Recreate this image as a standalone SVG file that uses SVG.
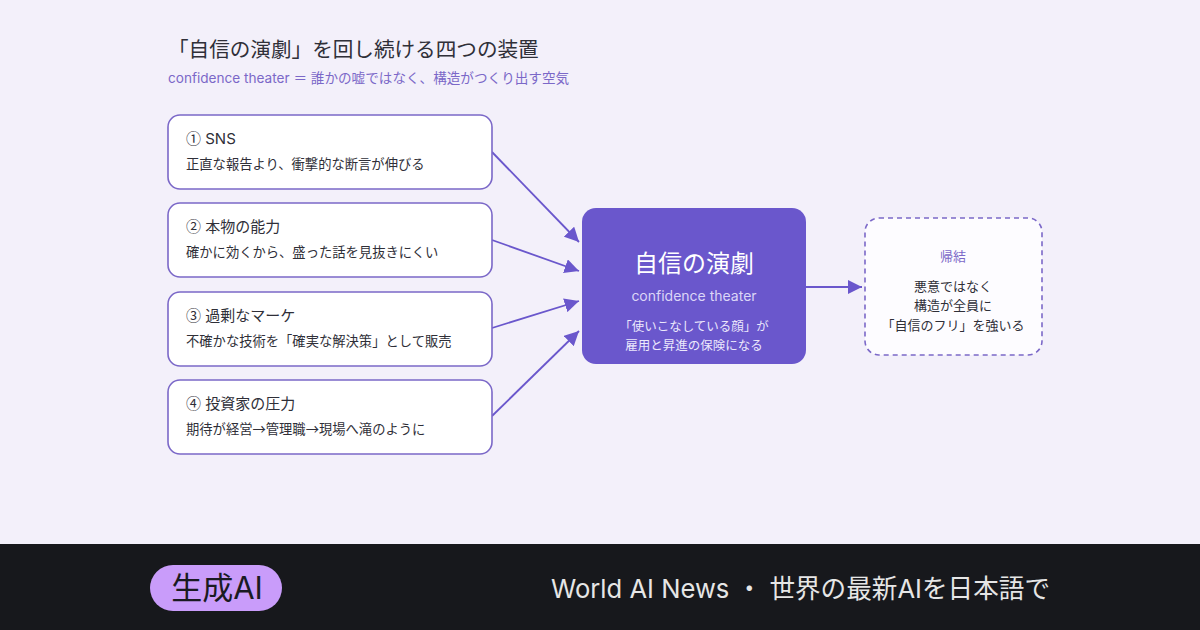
<svg xmlns="http://www.w3.org/2000/svg" width="1200" height="630" viewBox="0 0 1200 630">
<defs>
<style>
text{font-family:Inter,"Noto Sans CJK JP",sans-serif}
.card{fill:#ffffff;stroke:#7B68C8;stroke-width:1.6}
.ct{font-size:15px;fill:#2f2f38}
.n{font-family:"Noto Sans CJK JP",sans-serif}
.cs{font-size:13.3px;fill:#2f2f38;font-family:"Noto Sans CJK JP",sans-serif}
.conn{stroke:#6A57CC;stroke-width:1.8;fill:none}
</style>
<marker id="ah" viewBox="0 0 10 10" refX="10" refY="5" markerWidth="8" markerHeight="8" markerUnits="strokeWidth" orient="auto">
<path d="M0,0 L10,5 L0,10 z" fill="#6A57CC"/>
</marker>
</defs>
<rect width="1200" height="630" fill="#F3F0FA"/>
<text x="168" y="57" font-size="20.6" fill="#2f2f38">「自信の演劇」を回し続ける四つの装置</text>
<text x="168" y="83" font-size="13.6" fill="#7B68C8">confidence theater ＝ 誰かの嘘ではなく、構造がつくり出す空気</text>

<g id="connectors">
<line class="conn" x1="492" y1="152" x2="579" y2="242" marker-end="url(#ah)"/>
<line class="conn" x1="492" y1="240" x2="579" y2="271" marker-end="url(#ah)"/>
<line class="conn" x1="492" y1="328" x2="579" y2="301" marker-end="url(#ah)"/>
<line class="conn" x1="492" y1="416" x2="579" y2="331" marker-end="url(#ah)"/>
<line class="conn" x1="806" y1="287" x2="862" y2="287" marker-end="url(#ah)"/>
</g>

<g id="node1">
<rect class="card" x="168" y="115" width="324" height="74" rx="12"/>
<text class="ct" x="186" y="144"><tspan class="n">①</tspan> SNS</text>
<text class="cs" x="186" y="169">正直な報告より、衝撃的な断言が伸びる</text>
</g>
<g id="node2">
<rect class="card" x="168" y="203" width="324" height="74" rx="12"/>
<text class="ct" x="186" y="232"><tspan class="n">②</tspan> 本物の能力</text>
<text class="cs" x="186" y="257">確かに効くから、盛った話を見抜きにくい</text>
</g>
<g id="node3">
<rect class="card" x="168" y="292" width="324" height="74" rx="12"/>
<text class="ct" x="186" y="321"><tspan class="n">③</tspan> 過剰なマーケ</text>
<text class="cs" x="186" y="346">不確かな技術を「確実な解決策」として販売</text>
</g>
<g id="node4">
<rect class="card" x="168" y="380" width="324" height="74" rx="12"/>
<text class="ct" x="186" y="409"><tspan class="n">④</tspan> 投資家の圧力</text>
<text class="cs" x="186" y="434">期待が経営→管理職→現場へ滝のように</text>
</g>

<g id="center">
<rect x="582" y="208" width="224" height="156" rx="14" fill="#6A57CC"/>
<text x="694" y="272" font-size="24" fill="#ffffff" text-anchor="middle">自信の演劇</text>
<text x="694" y="301" font-size="14" fill="#DCD6F7" text-anchor="middle">confidence theater</text>
<text x="694" y="331" font-size="12.5" fill="#ECE8FC" text-anchor="middle">「使いこなしている顔」が</text>
<text x="694" y="350" font-size="12.5" fill="#ECE8FC" text-anchor="middle">雇用と昇進の保険になる</text>
</g>

<g id="result">
<rect x="865" y="218" width="177" height="137" rx="14" fill="#FDFCFF" stroke="#7B68C8" stroke-width="1.6" stroke-dasharray="5 4"/>
<text x="953" y="261" font-size="13" fill="#7B68C8" text-anchor="middle">帰結</text>
<text x="953" y="291" font-size="13" fill="#2f2f38" text-anchor="middle">悪意ではなく</text>
<text x="953" y="310" font-size="13" fill="#2f2f38" text-anchor="middle">構造が全員に</text>
<text x="953" y="330" font-size="13" fill="#2f2f38" text-anchor="middle">「自信のフリ」を強いる</text>
</g>

<g id="footer">
<rect x="0" y="544" width="1200" height="86" fill="#17181C"/>
<rect x="150" y="565" width="132" height="46" rx="23" fill="#C99CFA"/>
<text x="217" y="599" font-size="31" fill="#1a1a22" text-anchor="middle" font-family="Noto Sans CJK JP, sans-serif">生成AI</text>
<text x="551" y="598" font-size="26" fill="#E6E6E6" textLength="499" lengthAdjust="spacingAndGlyphs" font-family="Noto Sans CJK JP, sans-serif">World AI News ・ 世界の最新AIを日本語で</text>
</g>
</svg>
